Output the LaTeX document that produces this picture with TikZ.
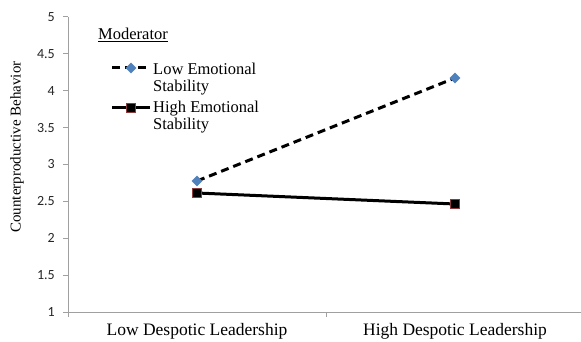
\documentclass[tikz,border=0pt]{standalone}
\usepackage{fontspec}
\setmainfont{Liberation Serif}
\newfontfamily\tickfont{Carlito}
\usetikzlibrary{shapes.geometric}
\definecolor{axisgray}{RGB}{160,160,160}
\definecolor{markblue}{RGB}{79,129,189}
\definecolor{markred}{RGB}{140,60,60}
\tikzset{
  axisline/.style={draw=axisgray, line width=1pt},
  ticklabel/.style={font=\tickfont\fontsize{14}{16}\selectfont, text=black!85, anchor=east, inner sep=0pt},
  catlabel/.style={font=\fontsize{17.5}{20}\selectfont, anchor=base, inner sep=0pt},
  legtext/.style={font=\fontsize{16.5}{19}\selectfont, anchor=base west, inner sep=0pt},
  dashline/.style={line width=3pt, dash pattern=on 8pt off 5pt, black},
  solidline/.style={line width=3pt, black},
  diamondmark/.style={diamond, aspect=1, fill=markblue, minimum width=11pt, minimum height=11pt, inner sep=0pt},
  squaremark/.style={rectangle, fill=black, draw=markred, line width=0.8pt, minimum size=9pt, inner sep=0pt},
}
\begin{document}
\begin{tikzpicture}[x=1pt,y=-1pt]
\useasboundingbox (0,0) rectangle (581,342);
\fill[white] (0,0) rectangle (581,342);
% axes
\coordinate (ytop) at (68,17);
\coordinate (origin) at (68,312);
\coordinate (xend) at (584,312);
\draw[axisline] (ytop) -- (origin);
\draw[axisline] (origin) -- (xend);
\foreach \v/\lab in {1/1,1.5/1.5,2/2,2.5/2.5,3/3,3.5/3.5,4/4,4.5/4.5,5/5}{
  \draw[axisline] (63,{312-(\v-1)*73.75}) -- (68,{312-(\v-1)*73.75});
  \node[ticklabel] (t\lab) at (55,{312-(\v-1)*73.75}) {\lab};
}
\draw[axisline] (68,312) -- (68,317);
\draw[axisline] (326,312) -- (326,317);
% axis labels
\node[catlabel] (cat1) at (197,335) {Low Despotic Leadership};
\node[catlabel] (cat2) at (455,335) {High Despotic Leadership};
\node[font=\fontsize{15}{17}\selectfont, rotate=90, inner sep=0pt] (ylab) at (17,147) {Counterproductive Behavior};
% data
\coordinate (l1) at (197,181);
\coordinate (l2) at (455,78);
\coordinate (h1) at (197,193);
\coordinate (h2) at (455,204);
\draw[dashline] (l1) -- (l2);
\draw[solidline] (h1) -- (h2);
\node[diamondmark] (ml1) at (l1) {};
\node[diamondmark] (ml2) at (l2) {};
\node[squaremark] (mh1) at (h1) {};
\node[squaremark] (mh2) at (h2) {};
% legend
\node[legtext] (modt) at (98,40) {\underline{Moderator}};
\coordinate (lg1a) at (112,68);
\coordinate (lg1b) at (150,68);
\coordinate (lg2a) at (112,108);
\coordinate (lg2b) at (150,108);
\draw[dashline] (lg1a) -- (lg1b);
\draw[solidline] (lg2a) -- (lg2b);
\node[diamondmark] (lgm1) at (131,68) {};
\node[squaremark] (lgm2) at (131,108) {};
\node[legtext] (lt1) at (153,75) {Low Emotional};
\node[legtext] (lt2) at (153,92) {Stability};
\node[legtext] (lt3) at (153,113) {High Emotional};
\node[legtext] (lt4) at (153,130) {Stability};
\end{tikzpicture}
\end{document}
